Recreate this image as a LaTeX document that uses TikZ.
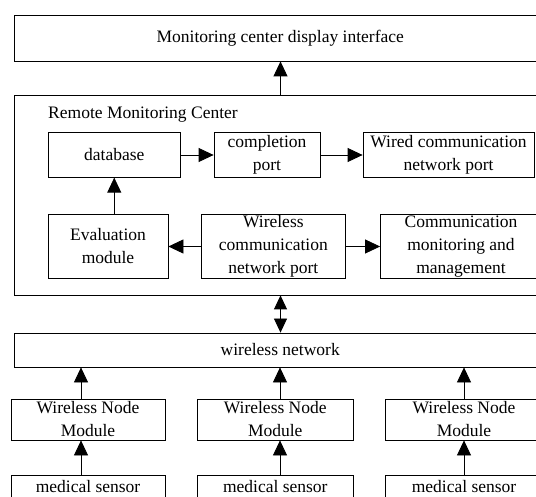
\documentclass[tikz,border=0pt]{standalone}
\usepackage{fontspec}
\setmainfont{Liberation Serif}
\usetikzlibrary{arrows.meta}
\begin{document}
\begin{tikzpicture}[x=1pt,y=-1pt,
  box/.style={draw, line width=0.8pt, inner sep=0pt, align=center, font=\fontsize{17.5}{23}\selectfont},
  lbl/.style={inner sep=0pt, font=\fontsize{17.5}{23}\selectfont},
  arr/.style={line width=0.8pt, -{Triangle[length=15pt,width=14pt]}},
  darr/.style={line width=0.8pt, {Triangle[length=14pt,width=13pt]}-{Triangle[length=14pt,width=13pt]}}]
\useasboundingbox (0,0) rectangle (536,497);
\clip (0,0) rectangle (536,497);
\node[box, minimum width=531.5pt, minimum height=45.5pt] (top) at (280.25,38.25) {Monitoring center display interface};
\node[box, minimum width=531.5pt, minimum height=200pt] (rmc) at (280.25,195) {};
\node[lbl, anchor=west] (rmclabel) at (48,115) {Remote Monitoring Center};
\node[box, minimum width=132.5pt, minimum height=44.5pt] (db) at (114.25,155) {database};
\node[box, minimum width=106pt, minimum height=44.5pt] (comp) at (267,155) {completion\\port};
\node[box, minimum width=171pt, minimum height=44.5pt] (wired) at (448.5,155) {Wired communication\\network port};
\node[box, minimum width=120pt, minimum height=63.5pt] (eval) at (108,246.5) {Evaluation\\module};
\node[box, minimum width=143.3pt, minimum height=63.5pt] (wcomm) at (273.35,246.5) {Wireless\\communication\\network port};
\node[box, minimum width=161pt, minimum height=63.5pt] (cmm) at (461,246.5) {Communication\\monitoring and\\management};
\node[box, minimum width=531.5pt, minimum height=34pt] (wnet) at (280.25,350) {wireless network};
\node[box, minimum width=154pt, minimum height=41pt] (n1) at (88,419.5) {Wireless Node\\Module};
\node[box, minimum width=156.5pt, minimum height=41pt] (n2) at (275.25,419.5) {Wireless Node\\Module};
\node[box, minimum width=158pt, minimum height=41pt] (n3) at (464,419.5) {Wireless Node\\Module};
\node[box, minimum width=154pt, minimum height=44pt, anchor=north] (s1) at (88,475) {};
\node[box, minimum width=156.5pt, minimum height=44pt, anchor=north] (s2) at (275.25,475) {};
\node[box, minimum width=158pt, minimum height=44pt, anchor=north] (s3) at (464,475) {};
\node[lbl] (s1t) at (88,486.5) {medical sensor};
\node[lbl] (s2t) at (275.25,486.5) {medical sensor};
\node[lbl] (s3t) at (464,486.5) {medical sensor};
\coordinate (xa) at (280.5,0);
\coordinate (x1) at (81,0);
\coordinate (x2) at (280,0);
\coordinate (x3) at (464,0);
\draw[arr] (rmc.north -| xa) -- (top.south -| xa);
\draw[arr] (db) -- (comp);
\draw[arr] (comp) -- (wired);
\draw[arr] (eval.north -| db) -- (db.south);
\draw[arr] (wcomm) -- (eval);
\draw[arr] (wcomm) -- (cmm);
\draw[darr] (rmc.south -| xa) -- (wnet.north -| xa);
\draw[arr] (n1.north -| x1) -- (wnet.south -| x1);
\draw[arr] (n2.north -| x2) -- (wnet.south -| x2);
\draw[arr] (n3.north -| x3) -- (wnet.south -| x3);
\draw[arr] (s1.north -| x1) -- (n1.south -| x1);
\draw[arr] (s2.north -| x2) -- (n2.south -| x2);
\draw[arr] (s3.north -| x3) -- (n3.south -| x3);
\end{tikzpicture}
\end{document}
